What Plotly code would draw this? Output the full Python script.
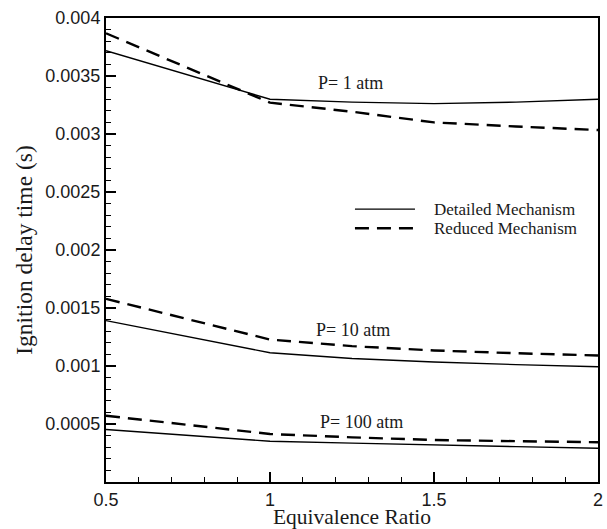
import plotly.graph_objects as go

phi = [0.5, 1.0, 1.25, 1.5, 1.75, 2.0]
det_1 = [0.003718, 0.003300, 0.003275, 0.003262, 0.003275, 0.003300]
red_1 = [0.003868, 0.003270, 0.003192, 0.003100, 0.003065, 0.003034]
det_10 = [0.001391, 0.001114, 0.001065, 0.001034, 0.001012, 0.000994]
red_10 = [0.001579, 0.001228, 0.001171, 0.001134, 0.001110, 0.001091]
det_100 = [0.000452, 0.000351, 0.000335, 0.000323, 0.000305, 0.000291]
red_100 = [0.000571, 0.000414, 0.000385, 0.000362, 0.000352, 0.000343]

labels = ["P= 1 atm", "P= 10 atm", "P= 100 atm"]
label_x = [1.244, 1.253, 1.28]
label_y = [0.003436, 0.001314, 0.000514]

legend_names = ["Detailed Mechanism", "Reduced Mechanism"]

xtick_vals = [0.5, 1, 1.5, 2]
xtick_text = ["0.5", "1", "1.5", "2"]
ytick_vals = [0.0005, 0.001, 0.0015, 0.002, 0.0025, 0.003, 0.0035, 0.004]
ytick_text = ["0.0005", "0.001", "0.0015", "0.002", "0.0025", "0.003", "0.0035", "0.004"]

serif = "Liberation Serif"
sans = "Liberation Sans"
ink = "#1a1a1a"

fig = go.Figure()
solid = dict(color="black", width=1.4)
dashed = dict(color="black", width=2.4, dash="14px,8px")
for d, r in [(det_1, red_1), (det_10, red_10), (det_100, red_100)]:
    fig.add_trace(go.Scatter(x=phi, y=d, mode="lines", line=solid,
                             name=legend_names[0], showlegend=False))
    fig.add_trace(go.Scatter(x=phi, y=r, mode="lines", line=dashed,
                             name=legend_names[1], showlegend=False))

for t, x, y in zip(labels, label_x, label_y):
    fig.add_annotation(x=x, y=y, text=t, showarrow=False,
                       font=dict(family=serif, size=18, color=ink))

# legend drawn as keys + text (paper coordinates)
leg_y = [0.588, 0.547]
leg_styles = [solid, dashed]
for name, yy, st in zip(legend_names, leg_y, leg_styles):
    fig.add_shape(type="line", xref="paper", yref="paper",
                  x0=0.506, x1=0.628, y0=yy, y1=yy, line=st)
    fig.add_annotation(xref="paper", yref="paper", x=0.663, y=yy, text=name,
                       showarrow=False, xanchor="left", yanchor="middle",
                       font=dict(family=serif, size=17, color=ink))

fig.update_layout(
    width=607, height=529,
    margin=dict(l=106, r=9, t=18, b=47),
    paper_bgcolor="white", plot_bgcolor="white",
    showlegend=False,
    xaxis=dict(range=[0.5, 2], tickvals=xtick_vals, ticktext=xtick_text,
               ticks="inside", ticklen=10, tickwidth=2, tickcolor="black",
               showline=True, linewidth=2, linecolor="black", mirror=True,
               showgrid=False, zeroline=False, automargin=False,
               tickfont=dict(family=sans, size=18, color=ink),
               minor=dict(dtick=0.1, ticks="inside", ticklen=5, tickwidth=1, tickcolor="black"),
               title=dict(text="Equivalence Ratio",
                          font=dict(family=serif, size=21.5, color=ink))),
    yaxis=dict(range=[0, 0.004], tickvals=ytick_vals, ticktext=ytick_text,
               ticks="inside", ticklen=10, tickwidth=2, tickcolor="black",
               showline=True, linewidth=2, linecolor="black", mirror=True,
               showgrid=False, zeroline=False, automargin=False,
               tickfont=dict(family=sans, size=18, color=ink),
               minor=dict(dtick=0.0001, ticks="inside", ticklen=5, tickwidth=1, tickcolor="black"),
               title=dict(text="Ignition delay time (s)", standoff=6,
                          font=dict(family=serif, size=23.5, color=ink))),
)

fig.write_html("out.html", config={"displayModeBar": False},
               post_script="document.body.style.margin='0';")
